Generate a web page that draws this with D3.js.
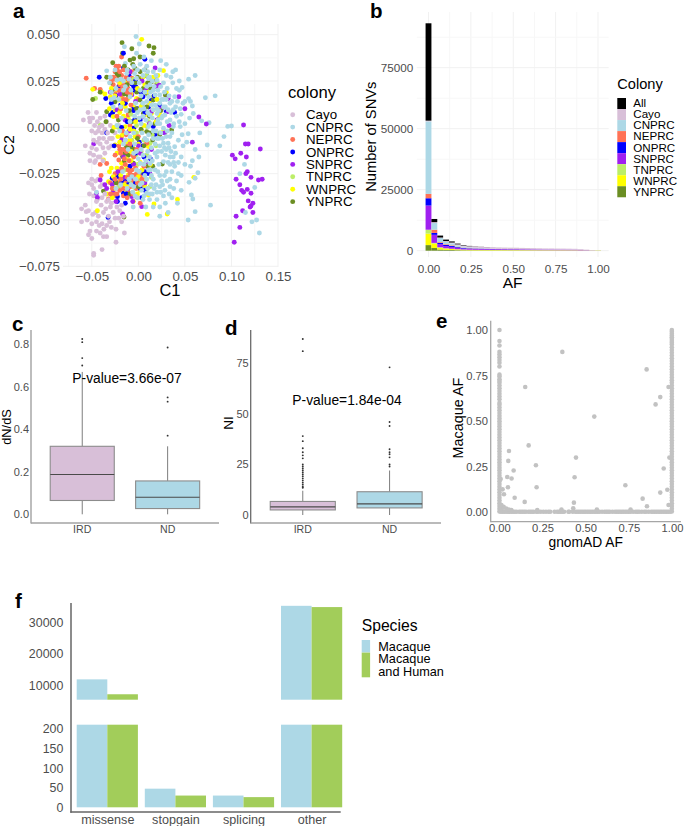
<!DOCTYPE html>
<html><head><meta charset="utf-8">
<script src="https://cdn.jsdelivr.net/npm/d3@7"></script>
<style>
html,body{margin:0;padding:0;background:#fff}
svg{display:block}
text{font-family:"Liberation Sans",Arial,sans-serif}
</style></head><body><svg id="c" width="685" height="826"></svg>
<script>
// ---------- Panel a: C1 / C2 in thousandths ----------
const cayo=[[-59,4],[-54,8],[-52.5,5],[-57,-10],[-52,3],[-45,8],[-41,5],[-50,-2],[-46,-3],[-43,-2],[-39,-3],[-36,-1],[-34,3],[-30,1],[-27,0],[-37.5,-6],[-34,-8],[-41,-9],[-32,-11],[-29,-10],[-52,-14],[-48,-15],[-45,-12],[-52,-18],[-46,-18],[-41,-16],[-36,-14],[-25,-3],[-21,1],[-53.5,-30],[-50,-31],[-46,-29],[-43,-28],[-39,-31],[-52.5,-36],[-48,-37],[-44,-39],[-39,-38],[-34,-40],[-29,-41],[-23,-43],[-18,-42],[-61,-44],[-56,-45.5],[-53.5,-45],[-61,-51],[-55,-50],[-46,-46],[-43,-48],[-37.5,-46],[-32,-48],[-27,-46],[-21,-49],[-16,-48],[-50,-52],[-45,-51],[-39,-52],[-34,-53],[-29,-54],[-18,-51],[-52,-56],[-53.5,-58],[-50,-60],[-41,-57],[-37.5,-59],[-34,-59],[-24,-62],[-15,-57],[-39,-66],[-48,-68],[-48,-69],[-41,-32],[-32,-39],[-49,5],[-47,1],[-44,3],[-42,0],[-39,1],[-36,6],[-33,-3],[-31,-6],[-42,-6],[-48,-7],[-44,-8],[-38,-11],[-50,-11],[-47,-19],[-43,-16],[-38,-18],[-28,-6],[-50,-28],[-48,-33],[-45,-40],[-40,-42],[-36,-36],[-35,-44],[-30,-43],[-25,-49],[-42,-53],[-37,-55],[-31,-51],[-24,-55],[-45,-56],[-57,-42],[-49,-47],[-20,-45]];
const cnprc=[[-2.5,49],[-15,43.5],[1,45],[-2,40],[24,36],[-14,34.5],[-34,30.5],[40,31],[37,30],[61,28],[54,26],[35,27],[37,24],[47,21.5],[41,21],[44,20],[72,16],[82.5,17],[54,15.5],[56,14],[58,11.5],[45,10],[37.5,9.5],[59,7.5],[55,5],[50,2],[76,2.5],[68,3.5],[96,0.5],[100,0.7],[92,-5],[87.5,-10],[74,-9.5],[65,-16],[61,-12],[53.5,-3.5],[45,0.4],[37.5,0.4],[43,-7],[48,-10],[34,-5],[27,-8.6],[30,-12],[37.5,-16],[46,-16],[34,-20],[39,-21],[43,-25],[46,-26],[64,-24.5],[54.5,-29.7],[61,-27.5],[34,-28],[28.5,-34],[34,-32],[46,-34],[57,-36.5],[58.5,-38.7],[77.5,-42],[61,-45.5],[53.5,-50],[42,-41],[23,-43],[16,-43],[23,-48],[32,-46],[109,-25],[114,-20],[115,-46],[122,-51],[127,-50],[130,-57],[125,-32.5],[27,-37],[20,-35],[12.5,-36],[-5.5,-43],[5,-39],[8,-43],[-45,-35],[9,33],[16,30],[5,28],[-2,26.5],[-12.5,29],[-23,25.5],[20,25.5],[27,24],[9,22],[16,20],[23,17.5],[30,15],[11,16.5],[20,15],[14,12],[5,13],[27,11],[32,9.5],[2,9.5],[20,7.5],[12.5,6.7],[25,5],[34,4],[41,6],[20,2],[11,0.4],[27,-0.5],[36,-3],[16,-2],[20,-6],[9,-7],[23,-10],[14,-11],[34,-16],[20,-16],[27,-18.5],[12.5,-19.5],[18,-23],[23,-26],[9,-28],[14,-31],[23,-32],[3.5,-34],[9,-35.6],[20,-39],[-3.5,-37],[-5,-32],[-7,-26.6],[-2,-23],[2,-19.5],[-5,-14],[-11,-12],[-14,-7],[-5,-3],[-20,-2],[-21,15],[-27,11],[-9,16.5],[-14,22],[2,20],[-7,24],[-5,33],[2,34],[-25,31],[-30,27],[23,31],[30,28],[11,26.5],[27,15],[16,9.5],[34,13],[39,16.5],[23,2],[20,10],[9,14],[12.5,23],[5,6],[23,13],[18,17.5],[28.5,6.7],[30,-5],[39,-10.5],[32,-8.6],[21,-13],[14,-26],[30,-24],[25,-29],[11,-23],[2,-31],[-31,24],[-29,19],[-26,16],[-24,21],[-19,26],[-16,20],[-12,31],[-10,26],[-8,20],[-4,29],[-1,31],[1,24],[3,17],[6,31],[7,19],[10,30],[12,27],[13,19],[15,25],[17,22],[18,12],[19,28],[21,20],[22,9],[24,22],[25,15],[26,6],[28,19],[29,11],[31,21],[31,3],[33,17],[35,8],[36,14],[38,2],[40,11],[42,14],[44,3],[46,7],[48,13],[-3,13],[-1,8],[1,5],[3,2],[4,-3],[6,10],[7,-6],[8,4],[10,8],[11,-4],[13,2],[15,5],[16,-6],[18,-9],[19,-2],[21,4],[22,-6],[24,-3],[25,-13],[26,-6],[28,-11],[29,-15],[31,-2],[32,-19],[33,-11],[35,-13],[36,-24],[38,-19],[40,-14],[41,-29],[-4,-9],[-2,-13],[0,-17],[3,-12],[5,-15],[6,-20],[8,-18],[10,-13],[12,-16],[13,-23],[15,-18],[16,-28],[18,-14],[19,-31],[21,-24],[22,-20],[24,-35],[26,-31],[28,-26],[29,-41],[31,-29],[33,-36],[36,-38],[38,-33],[-8,-31],[-6,-35],[-3,-28],[-1,-38],[1,-24],[4,-30],[6,-37],[7,-26],[10,-33],[12,-39],[15,-36],[17,-33],[-12,-33],[-10,-28],[-17,-24],[-19,-31],[-24,-33],[-16,-9],[-13,-3],[-9,-5],[-23,1],[-18,5],[-13,9],[-9,3],[-4,6],[-19,11],[-29,15],[-16,25],[43,-19],[50,-20],[56,-21],[52,-8],[58,-18],[66,-3],[47,-4],[50,14],[44,25],[30,34],[14,36],[6,38]];
const neprc=[[-56,26.5],[-47,21],[-41,20.5],[-18,38],[-21,33],[-25,30],[-22.5,28],[-27,27],[-18,28],[-14,25.5],[-23,25.5],[-27,23],[-20,23],[-7,26.5],[-11,21],[-18,17.5],[-16,15],[-25,18],[-7,30],[-3.5,20],[0,15],[-11,6.7],[-9,1],[-18,-5],[-14,-7],[-21,-10],[-12.5,-10],[-7,-12],[-11,-15],[-5,-16],[-16,-19.5],[-41,-20],[-34,-19.5],[-40,-26],[-25,-25],[-20,-24],[-7,-23],[-2,-25],[2,-26.6],[-23,-30],[-14,-30],[-5,-29],[3.5,-31],[-27,-35],[-20,-34],[-11,-35],[-32,-38.7],[-27,-37],[2,-41],[-16,-37],[9,-21],[-21,-17.6],[0,-5],[9,-8.6],[-30,-30],[-2,-33],[-24,33],[-23,31],[-20,30],[-19,26],[-16,31],[-15,23],[-13,27],[-12,19],[-10,24],[-9,18],[-26,26],[-29,25],[-21,20],[-17,21],[-13,15],[-8,12],[-19,10],[-23,6],[-17,-2],[-13,-4],[-9,-9],[-16,-12],[-19,-14],[-13,-13],[-10,-18],[-6,-15],[-2,-12],[-18,-22],[-14,-20],[-9,-25],[-5,-26],[-12,-27],[-19,-28],[-25,-28],[-28,-33],[-23,-36],[-16,-33],[-9,-32],[-6,-36],[-1,-30],[4,-28],[-30,-36],[-12,-38],[-3,-22],[-20,-12],[-15,-17],[-11,-23],[6,-21],[-25,-15]];
const onprc=[[-42,27],[-35,15.6],[-30,6.7],[-27.5,8],[-21,22],[-16,32],[-7,23.4],[-5,22],[-2.5,21.6],[-10,28],[7,36.7],[9,27.7],[-16,40],[14,14.7],[23,12],[30,8.5],[39,8],[18,-4],[-34,-3],[-5,-0.5],[5,-10],[-23,-26.6],[-20,-25.7],[-14,-29],[7,-24],[8,-28],[-28,-27.5],[5,-25],[-16,-35.6],[7,-34],[-22.5,-37.4],[-22.5,-40],[-14,-41],[3.5,-38],[-32.5,-48.6],[-5,9],[-14,13],[5,16.5],[16,0.4],[-9,-21],[-5,11],[2,4],[-24,17],[-19,12],[-14,19],[-9,24],[-6,20],[-3,25],[-1,10],[3,19],[7,8],[11,11],[17,17],[-18,0],[-12,3],[-8,-10],[-3,-14],[1,-8],[6,-16],[-26,-10],[-20,-27],[-25,-29],[-11,-31],[-8,-27],[-3,-30],[2,-33],[-18,-30],[-13,-36],[10,-25],[13,-17],[-29,13],[-4,4]];
const snprc=[[113,1.3],[101,-15],[104,-17],[110,-14],[115,-9],[118,-9],[116,-16],[131,-11.7],[117,-24],[115.5,-25],[105,-28],[121,-27],[129,-28.4],[133,-28],[109,-31],[111,-34],[117,-33.5],[113,-35],[121,-35.6],[118,-39.7],[123,-41],[121,-42.4],[120,-43],[112,-45],[123,-46],[105,-48],[109,-54],[103,-62],[65,5.6],[73,1.8],[58,-8],[43.5,16.5],[50,10],[32,8.5],[22.5,22.7],[18,32],[32,15.6],[-48,-9],[-45,-35.6],[-44,-37.8],[-17,-46.8],[3.6,-42.8],[-2,-37.4],[2,-14],[12.5,-25],[9,-20],[-27,-33.8],[-23,9.4],[-14.3,4],[-7,17.5],[5,5.8],[14,8.5],[20,4],[-34,-33],[-41,-28.4],[-7,-37.4],[-16,-16],[-20,18],[-12,24],[-3,14],[8,20],[12,2],[25,10],[28,-3],[-10,-2],[-18,-7],[-5,-20],[-22,-24],[-28,-31],[-11,-33],[7,-30],[14,-12],[-30,19],[-9,30],[4,25],[19,22],[33,1],[-15,-27],[-6,-40],[0,-10],[-36,-31],[-24,-40]];
const tnprc=[[-46,15.6],[-41,1.3],[23,-3],[28.5,-3],[-5,-30],[9,0.4],[-7,-7],[-2,-3],[12.5,-32],[2,-28.4],[7,22],[16,16.5],[-12.5,14.7],[12.5,-8.6],[9,-15],[-14.3,-23],[-21,-32],[20,24.6],[-10,-9],[-6,-11],[-3,-15],[3,-13],[6,-7],[-15,-13],[-1,-20],[-9,-30],[-3,-33],[5,-32],[9,-33],[14,-27],[-8,7],[-2,1],[4,12],[11,3],[15,-4],[22,5],[-18,19],[-5,26],[9,28],[-13,-34],[-22,0],[19,-10]];
const wnprc=[[3.6,47.5],[-49,20.5],[-14.3,31.3],[-39.5,19],[-30,16.5],[-23,20],[-18,16],[-11,15.6],[-2,15.6],[-14,11],[-7,9.4],[-25,9.4],[-21,14.7],[0,9.4],[-11,4.9],[-2,4],[7,6.7],[14,7.5],[21,28],[27,30.6],[30,19],[7,23],[-27,5.8],[-28.6,-6],[-25,-9.5],[-14,0.4],[-9,-7],[-3.6,-5],[3.6,-2.3],[-12.5,-7.7],[-23,-14],[-37.5,-17.6],[-18,-19.4],[-12.5,-21],[-23,-22],[-27,-26.6],[-32,-29.3],[-20,-29.3],[-10.7,-25.7],[0,-26.6],[7,-31],[10.7,-24.8],[59.6,-27],[42,-38.9],[31,-46.8],[9.6,-47],[16.8,-41.4],[-5.4,-40],[10.7,-36.5],[-44,-45],[16,9.4],[23,6.7],[10.7,-10.4],[1.8,-33.8],[27,-2.3],[-29,21],[-25,17],[-20,24],[-17,13],[-14,24],[-8,18],[-5,12],[-1,21],[3,11],[5,27],[10,19],[12,13],[16,27],[-20,8],[-16,6],[-9,-1],[-5,-2],[0,-9],[-17,-4],[-20,-8],[-13,-17],[-8,-18],[-3,-22],[2,-19],[-29,-22],[-25,-33],[-15,-31],[-6,-32],[-1,-36],[4,-23],[8,-28],[-19,-26],[-31,-24],[-34,-36],[-28,-38],[13,-20],[-8,-13],[-26,0],[-31,10],[-36,18],[20,15],[19,3],[6,1],[-12,-32],[-3,3],[-22,-5]];
const ynprc=[[-17.5,45.7],[11.4,43.9],[16.8,43],[-7,42.4],[-17,40],[16,40],[-5,37],[1.8,38],[-9,36.3],[-27.5,34.9],[-3.5,31.8],[-34,27],[-21,28],[3.6,26.4],[14.3,24.6],[20,23.7],[-49,15],[-41,19],[-25,13.8],[5.4,21],[9,18.3],[-1.8,19],[-11,17.4],[29,17.4],[16,14.7],[-34,8.4],[5.4,7.5],[-7,3],[-34.8,3],[9,-2.3],[23,-4],[35.7,-1.4],[15.4,-6.8],[25.7,-19.8],[-14.3,-14],[-10.7,-15],[-17,-15.8],[15.4,-21],[7,-20],[-37.5,-34.4],[-15.4,-48.4],[-5.4,-19.4],[-21.4,4],[1.8,14.7],[-30,24],[-28,20],[-23,29],[-15,33],[-11,31],[-6,34],[-1,27],[7,31],[10,24],[18,26],[13,21],[9,11],[12,6],[-15,18],[-19,10],[-10,9],[-2,10],[3,-1],[-1,-6],[6,-10],[12,-3],[18,2],[-9,-11],[-5,-12],[-13,-11],[-19,-12],[-15,-18],[-7,-26],[2,-24],[10,-21],[-24,-30],[-9,-36],[0,-32],[24,9],[-28,-2],[-3,24],[2,30],[-12,23]];
const colonies=["Cayo","CNPRC","NEPRC","ONPRC","SNPRC","TNPRC","WNPRC","YNPRC"];
const colonyColors=["#d8bfd8","#add8e6","#ff7256","#0000ff","#a020f0","#bcee68","#ffff00","#6b8e23"];

// ---------- Panel b: number of SNVs per AF bin, one array per colony ----------
const histAll =[39900,1300,800,600,450,300,200,130,80,50,30,20,15,10,10,10,5,5,5,5,4,4,3,3,3,2,2,2,1,0];
const histCayo=[300,300,200,300,350,400,420,450,480,500,520,520,520,530,520,520,500,480,460,430,410,410,390,390,370,350,290,190,60,0];
const histCN  =[29700,2800,1700,1000,800,550,400,300,220,160,120,90,70,55,45,40,35,30,28,25,22,20,18,16,15,14,12,10,8,4];
const histNE  =[1800,1300,300,300,250,200,150,120,100,80,60,50,40,30,25,25,20,20,18,15,14,12,12,10,10,10,8,8,5,2];
const histON  =[3000,800,500,450,400,300,230,190,160,140,110,90,80,70,60,55,45,40,36,32,30,28,26,24,22,20,18,15,10,3];
const histSN  =[9900,3300,1300,900,750,550,420,370,350,340,330,310,290,290,280,280,270,260,250,240,230,230,220,220,210,200,170,110,40,8];
const histTN  =[1600,300,200,150,100,80,60,50,40,30,25,20,15,10,10,10,8,8,7,6,6,6,5,5,5,4,4,4,4,3];
const histWN  =[4700,1800,700,500,400,300,240,200,190,180,170,160,150,150,145,145,140,135,130,125,120,120,115,115,110,105,85,55,50,60];
const histYN  =[2300,1100,500,350,300,220,170,150,140,135,130,125,120,120,115,115,110,105,100,95,90,90,85,85,80,75,60,40,40,60];
const histKeys=["All","Cayo","CNPRC","NEPRC","ONPRC","SNPRC","TNPRC","WNPRC","YNPRC"];
const histSeries=[histAll,histCayo,histCN,histNE,histON,histSN,histTN,histWN,histYN];
const histColors=["#000000"].concat(colonyColors);
const histBinWidth=0.0345;

// ---------- Panel c ----------
const groups=["IRD","ND"];
const dndsBox=[[0,0.065,0.187,0.32,0.67],[0,0.027,0.08,0.157,0.32]];
const dndsOut=[[0.825,0.81,0.735,0.70],[0.785,0.55,0.53,0.37]];
// ---------- Panel d ----------
const niBox=[[0,2.5,4,6.7,12],[0,3.5,5.5,11.5,22]];
const niOut=[[87,81,39,36.5,33,31,29.5,28,25,24,23,22,21,20,19,18,17,16,15,14,13.5],[73,46,44,32.5,31,30,28.5,25,24]];
const groupColors=["#d8bfd8","#add8e6"];

// ---------- Panel e ----------
const eLeftY=[1.0,0.94,0.915,0.88,0.865,0.85,0.835,0.82,0.80,0.755,0.745,0.73,0.72,0.71,0.695,0.68,0.665,0.65,0.635,0.62,0.60,0.59,0.575,0.56,0.545,0.53,0.515,0.50,0.485,0.47,0.455,0.44,0.425,0.41,0.395,0.38,0.365,0.35,0.335,0.32,0.305,0.29,0.275,0.26,0.245,0.23,0.215,0.20,0.185,0.17,0.155,0.14,0.125,0.11,0.095,0.08,0.065,0.05,0.035,0.02,0.005];
const eRightY=[1.0,0.99,0.98,0.97,0.96,0.95,0.94,0.93,0.92,0.905,0.89,0.875,0.86,0.845,0.83,0.815,0.80,0.785,0.77,0.755,0.74,0.725,0.71,0.695,0.68,0.665,0.65,0.635,0.62,0.605,0.59,0.575,0.56,0.545,0.53,0.515,0.50,0.485,0.47,0.455,0.44,0.425,0.41,0.395,0.38,0.365,0.35,0.335,0.32,0.305,0.29,0.275,0.26,0.245,0.23,0.215,0.20,0.185,0.17,0.155,0.14,0.125,0.11,0.095,0.08,0.065,0.05,0.035,0.02,0.005];
const eBottomX=[0.01,0.02,0.03,0.04,0.05,0.06,0.07,0.08,0.09,0.10,0.115,0.125,0.135,0.145,0.155,0.17,0.18,0.19,0.2,0.215,0.225,0.24,0.255,0.27,0.285,0.295,0.32,0.335,0.345,0.355,0.365,0.375,0.4,0.405,0.425,0.44,0.45,0.46,0.47,0.48,0.49,0.5,0.51,0.52,0.53,0.54,0.55,0.56,0.57,0.58,0.595,0.61,0.62,0.63,0.64,0.655,0.67,0.68,0.69,0.7,0.71,0.72,0.73,0.74,0.75,0.76,0.775,0.79,0.8,0.81,0.825,0.84,0.85,0.865,0.88,0.89,0.9,0.91,0.92,0.93,0.94,0.95,0.96,0.97,0.98,0.99];
const eScatter=[[0.365,0.88],[0.853,0.784],[0.15,0.687],[0.98,0.687],[0.932,0.632],[0.905,0.592],[0.55,0.525],[0.17,0.367],[0.056,0.336],[0.052,0.282],[0.212,0.258],[0.444,0.30],[0.083,0.229],[0.046,0.194],[0.071,0.185],[0.436,0.192],[0.05,0.137],[0.216,0.137],[0.952,0.24],[0.73,0.148],[0.973,0.124],[0.932,0.108],[0.83,0.075],[0.089,0.08],[0.147,0.057],[0.432,0.053],[0.855,0.033],[0.428,0.022],[0.027,0.099],[0.019,0.126],[0.008,0.183],[0.98,0.04],[0.985,0.3],[0.015,0.02],[0.025,0.03],[0.04,0.02],[0.055,0.015],[0.07,0.012],[0.012,0.04],[0.565,0.015],[0.36,0.015],[0.76,0.015],[0.22,0.012]];

// ---------- Panel f ----------
const mutTypes=["missense","stopgain","splicing","other"];
const species=["Macaque","Macaque\nand Human"];
const speciesColors=["#add8e6","#a2cd5a"];
const macaqueCounts=[12000,47.6,30,35200];
const sharedCounts=[7300,30,26,34800];

// ---------- helpers ----------
const svg=d3.select("#c");
const INK="#4d4d4d";
function label(x,y,s,size,opt={}){
  const t=svg.append("text").attr("x",x).attr("y",y).attr("font-size",size)
    .attr("fill",opt.fill||"#000").attr("text-anchor",opt.anchor||"start").text(s);
  if(opt.weight)t.attr("font-weight",opt.weight);
  if(opt.rotate)t.attr("transform",`rotate(-90 ${x} ${y})`);
  return t;
}
function axis(gen,x,y,size){
  const g=svg.append("g").attr("transform",`translate(${x},${y})`).call(gen);
  g.select(".domain").remove();
  g.selectAll("line").remove();
  g.selectAll("text").attr("font-size",size).attr("fill",INK).attr("font-family",'"Liberation Sans",Arial,sans-serif');
  return g;
}
function hline(x1,x2,y,c,w){svg.append("line").attr("x1",x1).attr("x2",x2).attr("y1",y).attr("y2",y).attr("stroke",c).attr("stroke-width",w);}
function vline(x,y1,y2,c,w){svg.append("line").attr("x1",x).attr("x2",x).attr("y1",y1).attr("y2",y2).attr("stroke",c).attr("stroke-width",w);}
const GRID="#f1f1f1", GRIDM="#f7f7f7";

["a",13,18.1,"b",370,18.1,"c",12,331,"d",225,335,"e",436,328,"f",15,607.7].forEach((_,i,a)=>{
  if(i%3===0)label(a[i+1],a[i+2],a[i],20.5,{weight:"bold"});
});

// ---------- a ----------
{
  const x=d3.scaleLinear().domain([-0.05,0.15]).range([91.8,278]);
  const y=d3.scaleLinear().domain([-0.075,0.05]).range([266.3,34.7]);
  d3.range(-0.075,0.151,0.025).forEach((v,i)=>vline(x(v),24,267,i%2?GRID:GRIDM,1));
  d3.range(-0.075,0.0751,0.0125).forEach((v,i)=>{const p=y(v); if(p>=24)hline(63,278,p,i%2?GRIDM:GRID,1);});
  axis(d3.axisBottom(x).tickValues([-0.05,0,0.05,0.10,0.15]).tickFormat(d3.format(".2f")).tickSize(0).tickPadding(5),0,267,13.3);
  axis(d3.axisLeft(y).tickValues([-0.075,-0.05,-0.025,0,0.025,0.05]).tickFormat(d3.format(".3f")).tickSize(0).tickPadding(3),63,0,13.3);
  const sets=[cayo,cnprc,neprc,onprc,snprc,tnprc,wnprc,ynprc];
  const pts=[];
  const n=d3.max(sets,s=>s.length);
  d3.range(n).forEach(i=>sets.forEach((s,k)=>{if(i<s.length)pts.push({p:s[i],k});}));
  svg.append("g").selectAll("circle").data(pts).join("circle")
    .attr("cx",d=>x(d.p[0]/1000)).attr("cy",d=>y(d.p[1]/1000)).attr("r",2.45).attr("fill",d=>colonyColors[d.k]);
  label(170,296,"C1",16.5,{anchor:"middle"});
  label(14.2,145,"C2",15.5,{anchor:"middle",rotate:true});
  label(288,98,"colony",16.6);
  colonies.forEach((c,i)=>{
    const ly=114.7+i*12.42;
    svg.append("circle").attr("cx",292.7).attr("cy",ly).attr("r",2.45).attr("fill",colonyColors[i]);
    label(306,ly+4.6,c,13.3);
  });
}

// ---------- b ----------
{
  const x=d3.scaleLinear().domain([0,1]).range([428.5,598]);
  const y=d3.scaleLinear().domain([0,75000]).range([250.7,67.7]);
  [0,0.25,0.5,0.75,1].forEach(v=>vline(x(v),12,257,GRID,1));
  [0.125,0.375,0.625,0.875].forEach(v=>vline(x(v),12,257,GRIDM,1));
  [0,25000,50000,75000].forEach(v=>hline(416.7,608.7,y(v),GRID,1));
  [12500,37500,62500,87500].forEach(v=>hline(416.7,608.7,y(v),GRIDM,1));
  axis(d3.axisBottom(x).tickValues([0,0.25,0.5,0.75,1]).tickFormat(d3.format(".2f")).tickSize(0).tickPadding(7.7),0,257,11.7);
  axis(d3.axisLeft(y).tickValues([0,25000,50000,75000]).tickFormat(d3.format("d")).tickSize(0).tickPadding(3.4),416.7,0,11.7);
  const rows=d3.range(histAll.length).map(i=>{const r={i};histKeys.forEach((k,j)=>r[k]=histSeries[j][i]);return r;});
  const stack=d3.stack().keys(histKeys.slice().reverse())(rows);
  stack.forEach(layer=>{
    const col=histColors[histKeys.indexOf(layer.key)];
    svg.append("g").selectAll("rect").data(layer).join("rect")
      .attr("x",d=>x(d.data.i*histBinWidth-histBinWidth/2)).attr("width",x(histBinWidth)-x(0))
      .attr("y",d=>y(d[1])).attr("height",d=>y(d[0])-y(d[1])).attr("fill",col);
  });
  label(512.7,288,"AF",15.5,{anchor:"middle"});
  label(376.5,136.7,"Number of SNVs",14.7,{anchor:"middle",rotate:true});
  label(617.3,89,"Colony",14.6);
  histKeys.forEach((k,i)=>{
    svg.append("rect").attr("x",617.3).attr("y",98+i*11.03).attr("width",8.7).attr("height",11.03).attr("fill",histColors[i]);
    label(633.3,107.4+i*11.03,k,11.6);
  });
}

// ---------- c, d ----------
function boxPanel(cfg){
  const x=d3.scaleBand().domain(groups).range([cfg.x0+0.6*cfg.band,cfg.x0+2.6*cfg.band]);
  const y=d3.scaleLinear().domain(cfg.domain).range(cfg.range);
  vline(cfg.x0,330,523.5,cfg.axisY,1.3);
  hline(cfg.x0,cfg.x1,523,"#a3a3a3",1.3);
  axis(d3.axisBottom(x).tickSize(0).tickPadding(2.3),0,523,10.6).attr("transform",`translate(${-cfg.band/2},523)`);
  axis(d3.axisLeft(y).tickValues(cfg.ticks).tickFormat(cfg.fmt).tickSize(0).tickPadding(2),cfg.x0,0,11);
  groups.forEach((g,i)=>{
    const c=x(g)+0;
    const hw=cfg.band*0.375;
    const [lo,q1,md,q3,hi]=cfg.box[i];
    vline(c,y(hi),y(q3),"#7d7d7d",1);
    vline(c,y(q1),y(lo),"#7d7d7d",1);
    svg.append("rect").attr("x",c-hw).attr("width",hw*2).attr("y",y(q3)).attr("height",y(q1)-y(q3))
      .attr("fill",groupColors[i]).attr("stroke","#8c8c8c").attr("stroke-width",1.1);
    hline(c-hw,c+hw,y(md),"#4a4a4a",1.1);
    svg.append("g").selectAll("circle").data(cfg.out[i]).join("circle")
      .attr("cx",c).attr("cy",d=>y(d)).attr("r",0.95).attr("fill","#333");
  });
  label(cfg.px,cfg.py,cfg.ptext,13.8,{anchor:"middle"});
}
boxPanel({x0:31,x1:219,band:85.4,axisY:"#9a9a9a",domain:[0,0.8],range:[514.3,344.3],ticks:[0,0.2,0.4,0.6,0.8],fmt:d3.format(".1f"),box:dndsBox,out:dndsOut,px:127,py:383,ptext:"P-value=3.66e-07"});
boxPanel({x0:250.7,x1:441,band:86.8,axisY:"#6a6a6a",domain:[0,75],range:[515,363.3],ticks:[0,25,50,75],fmt:d3.format("d"),box:niBox,out:niOut,px:347,py:405,ptext:"P-value=1.84e-04"});
label(10.5,427,"dN/dS",12.8,{anchor:"middle",rotate:true});
label(232.5,423,"NI",13.5,{anchor:"middle",rotate:true});

// ---------- e ----------
{
  const x=d3.scaleLinear().domain([0,1]).range([499.3,672]);
  const y=d3.scaleLinear().domain([0,1]).range([512.3,330]);
  const col="#c2c2c2";
  const pts=eLeftY.map(v=>[0.001,v]).concat(eRightY.map(v=>[0.999,v]),eBottomX.map(v=>[v,0.003]),eScatter);
  svg.append("g").selectAll("circle").data(pts).join("circle")
    .attr("cx",d=>x(d[0])).attr("cy",d=>y(d[1])).attr("r",2.3).attr("fill",col);
  vline(490.7,320.7,522.3,"#a6a6a6",1.3);
  hline(490.7,681,521.7,"#a6a6a6",1.3);
  axis(d3.axisBottom(x).tickValues([0,0.25,0.5,0.75,1]).tickFormat(d3.format(".2f")).tickSize(0).tickPadding(2.75),0,521.7,11.2);
  axis(d3.axisLeft(y).tickValues([0,0.25,0.5,0.75,1]).tickFormat(d3.format(".2f")).tickSize(0).tickPadding(2.7),490.7,0,11.2);
  label(585.7,546.5,"gnomAD AF",13.8,{anchor:"middle"});
  label(463,418,"Macaque AF",14.4,{anchor:"middle",rotate:true});
}

// ---------- f ----------
{
  const x=d=>107.3+mutTypes.indexOf(d)*68.1;
  const low=d3.scaleLinear().domain([0,211]).range([807.3,724.7]).clamp(true);
  const high=d3.scaleLinear().domain([5584,30000]).range([699.7,622.3]);
  const w=30.6;
  const series=[macaqueCounts,sharedCounts];
  series.forEach((vals,k)=>{
    mutTypes.forEach((m,i)=>{
      const bx=x(m)-w+k*w;
      svg.append("rect").attr("x",bx).attr("width",w).attr("y",low(vals[i])).attr("height",low(0)-low(vals[i])).attr("fill",speciesColors[k]);
      if(vals[i]>high.domain()[0]){
        svg.append("rect").attr("x",bx).attr("width",w).attr("y",high(vals[i])).attr("height",high(5584)-high(vals[i])).attr("fill",speciesColors[k]);
      }
    });
  });
  vline(71,603,812.7,"#666",1.5);
  hline(70.3,340.7,812,"#666",1.5);
  const xa=d3.scalePoint().domain(mutTypes).range([107.3,107.3+3*68.1]);
  axis(d3.axisBottom(xa).tickSize(0).tickPadding(2.6),0,812,12.6);
  axis(d3.axisLeft(low).tickValues([0,50,100,150,200]).tickFormat(d3.format("d")).tickSize(0).tickPadding(7.7),71,0,12.4);
  axis(d3.axisLeft(high).tickValues([10000,20000,30000]).tickFormat(d3.format("d")).tickSize(0).tickPadding(7.7),71,0,12.4);
  label(361.7,630.5,"Species",15.7);
  svg.append("rect").attr("x",361.7).attr("y",640).attr("width",8.4).attr("height",12.5).attr("fill",speciesColors[0]);
  svg.append("rect").attr("x",361.7).attr("y",652.6).attr("width",8.4).attr("height",24.7).attr("fill",speciesColors[1]);
  label(378.3,650.8,species[0],12.7);
  species[1].split("\n").forEach((s,i)=>label(378.3,662.8+i*13.6,s,12.7));
}
</script></body></html>
